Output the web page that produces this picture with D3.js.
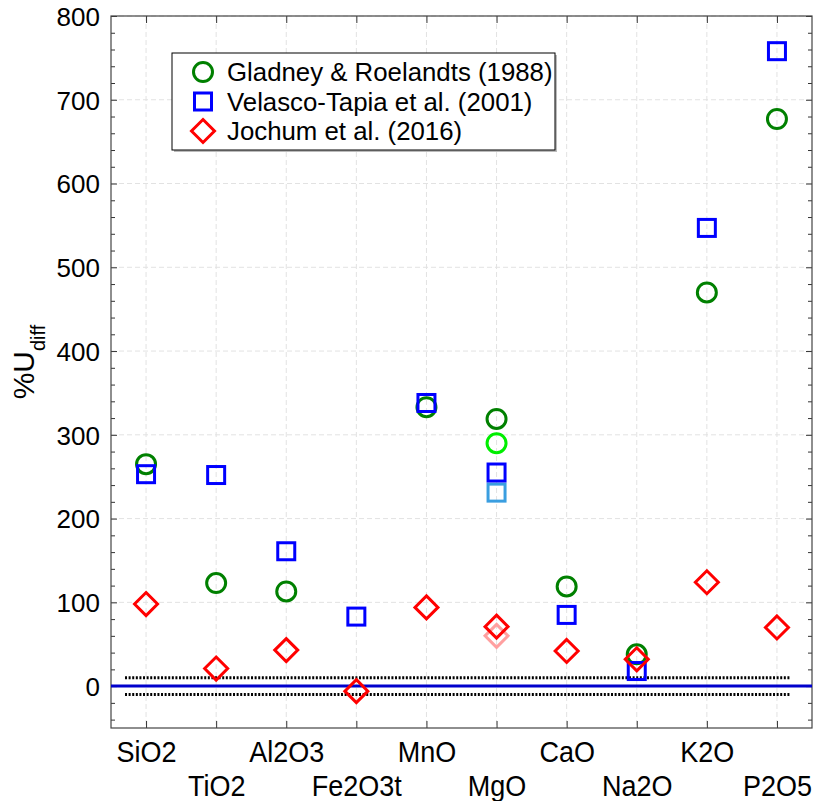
<!DOCTYPE html>
<html>
<head>
<meta charset="utf-8">
<script src="https://cdn.jsdelivr.net/npm/d3@7"></script>
<style>
  body { margin: 0; background: #fff; }
  svg text { font-family: "Liberation Sans", Arial, sans-serif; fill: #000; }
</style>
</head>
<body>
<div class="svg-container"></div>
<script>
// data
const oxides = ["SiO2", "TiO2", "Al2O3", "Fe2O3t", "MnO", "MgO", "CaO", "Na2O", "K2O", "P2O5"];
const gladney = [265, 123, 113, null, 333, 319, 119, 38, 470, 677];
const velasco = [253, 252, 161, 83, 338, 255, 85, 18, 547, 758];
const jochum = [98, 21, 43, -6, 94, 71, 42, 32, 124, 70];
// second MgO value for each compilation (lighter colours)
const mgoAlt = [290, 231, 60];
const legendTitles = ["Gladney & Roelandts (1988)", "Velasco-Tapia et al. (2001)", "Jochum et al. (2016)"];
const yTicks = [0, 100, 200, 300, 400, 500, 600, 700, 800];
const bandLimit = 10;
const bandFrom = -0.3, bandTo = 9.2;

const W = 816, H = 801;
const margin = { top: 16, right: 4, bottom: 73, left: 111 };

const svg = d3.select(".svg-container")
  .append("svg")
  .attr("width", W)
  .attr("height", H);

const x = d3.scaleLinear().domain([-0.5, oxides.length - 0.5]).range([margin.left, W - margin.right]);
const y = d3.scaleLinear().domain([-50, 800]).range([H - margin.bottom, margin.top]);

const x0 = x.range()[0], x1 = x.range()[1], y0 = y.range()[0], y1 = y.range()[1];

// grid
const grid = svg.append("g").attr("stroke", "#e2e2e2").attr("stroke-dasharray", "5,3").attr("stroke-width", 1);
grid.selectAll(".vg").data(oxides).enter().append("line")
  .attr("x1", (d, i) => x(i)).attr("x2", (d, i) => x(i))
  .attr("y1", y1).attr("y2", y0);
grid.selectAll(".hg").data(yTicks).enter().append("line")
  .attr("x1", x0).attr("x2", x1)
  .attr("y1", d => y(d)).attr("y2", d => y(d));

// axes
const minor = d3.range(-40, 801, 20).filter(d => d % 100 !== 0);

svg.append("g").attr("transform", "translate(" + x0 + ",0)")
  .call(d3.axisLeft(y).tickValues(yTicks).tickSize(-6).tickPadding(11))
  .call(g => g.select(".domain").remove())
  .call(g => g.selectAll("text").style("font-size", "26px").attr("dy", "0.36em"));
svg.append("g").attr("transform", "translate(" + x0 + ",0)")
  .call(d3.axisLeft(y).tickValues(minor).tickSize(-4).tickFormat(""))
  .call(g => g.select(".domain").remove());
svg.append("g").attr("transform", "translate(" + x1 + ",0)")
  .call(d3.axisRight(y).tickValues(yTicks).tickSize(-6).tickFormat(""))
  .call(g => g.select(".domain").remove());
svg.append("g").attr("transform", "translate(" + x1 + ",0)")
  .call(d3.axisRight(y).tickValues(minor).tickSize(-4).tickFormat(""))
  .call(g => g.select(".domain").remove());

svg.append("g").attr("transform", "translate(0," + y1 + ")")
  .call(d3.axisTop(x).tickValues(d3.range(oxides.length)).tickSize(-7).tickFormat(""))
  .call(g => g.select(".domain").remove());
svg.append("g").attr("transform", "translate(0," + y0 + ")")
  .call(d3.axisBottom(x).tickValues(d3.range(oxides.length)).tickSize(-7).tickFormat(i => oxides[i]))
  .call(g => g.select(".domain").remove())
  .call(g => g.selectAll("text")
    .style("font-size", "27px")
    .attr("dy", null)
    .attr("y", 0)
    .attr("transform", (d, i) => "translate(0," + (i % 2 === 0 ? 34 : 68) + ") scale(1,1.08)"));

svg.selectAll(".tick line").attr("stroke", "#333");

// frame
svg.append("rect")
  .attr("x", x0).attr("y", y1)
  .attr("width", x1 - x0).attr("height", y0 - y1)
  .attr("fill", "none").attr("stroke", "#444").attr("stroke-width", 1.2);

// zero line and +-10 band
svg.append("line")
  .attr("x1", x0).attr("x2", x1).attr("y1", y(0)).attr("y2", y(0))
  .attr("stroke", "#0000cc").attr("stroke-width", 3);
svg.selectAll(".band").data([bandLimit, -bandLimit]).enter().append("line")
  .attr("x1", x(bandFrom)).attr("x2", x(bandTo))
  .attr("y1", d => y(d)).attr("y2", d => y(d))
  .attr("stroke", "#000").attr("stroke-width", 3).attr("stroke-dasharray", "2,1.6");

// marker shapes
function circle(g, cx, cy, col) {
  g.append("circle").attr("cx", cx).attr("cy", cy).attr("r", 9.5)
    .attr("fill", "none").attr("stroke", col).attr("stroke-width", 3);
}
function square(g, cx, cy, col) {
  g.append("rect").attr("x", cx - 8.5).attr("y", cy - 8.5).attr("width", 17).attr("height", 17)
    .attr("fill", "none").attr("stroke", col).attr("stroke-width", 3);
}
function diamond(g, cx, cy, col) {
  const r = 11.5;
  g.append("path")
    .attr("d", "M" + cx + "," + (cy - r) + "L" + (cx + r) + "," + cy + "L" + cx + "," + (cy + r) + "L" + (cx - r) + "," + cy + "Z")
    .attr("fill", "none").attr("stroke", col).attr("stroke-width", 3);
}

const pts = svg.append("g");
const iMg = oxides.indexOf("MgO");
circle(pts, x(iMg), y(mgoAlt[0]), "#00ee00");
square(pts, x(iMg), y(mgoAlt[1]), "#3a9ee0");
diamond(pts, x(iMg), y(mgoAlt[2]), "#ffa0a0");
gladney.forEach((v, i) => { if (v !== null) circle(pts, x(i), y(v), "#008000"); });
velasco.forEach((v, i) => { if (v !== null) square(pts, x(i), y(v), "#0000ff"); });
jochum.forEach((v, i) => { if (v !== null) diamond(pts, x(i), y(v), "#ff0000"); });

// y label
svg.append("text")
  .attr("transform", "translate(34,362) rotate(-90)")
  .attr("text-anchor", "middle")
  .style("font-size", "30px")
  .text("%U")
  .append("tspan")
  .attr("baseline-shift", "sub")
  .style("font-size", "20px")
  .text("diff");

// legend
const legend = svg.append("g").attr("id", "legend");
legend.append("rect")
  .attr("x", 174).attr("y", 55).attr("width", 383).attr("height", 97)
  .attr("fill", "#bbb");
legend.append("rect")
  .attr("x", 172).attr("y", 53).attr("width", 383).attr("height", 97)
  .attr("fill", "#fff").attr("stroke", "#000").attr("stroke-width", 1);
const markers = [circle, square, diamond];
const cols = ["#008000", "#0000ff", "#ff0000"];
legendTitles.forEach((t, i) => {
  const ly = 72 + i * 29.5;
  markers[i](legend, 203, ly, cols[i]);
  legend.append("text")
    .attr("x", 227).attr("y", ly)
    .attr("dy", "0.36em")
    .style("font-size", "25.8px")
    .text(t);
});
</script>
</body>
</html>
